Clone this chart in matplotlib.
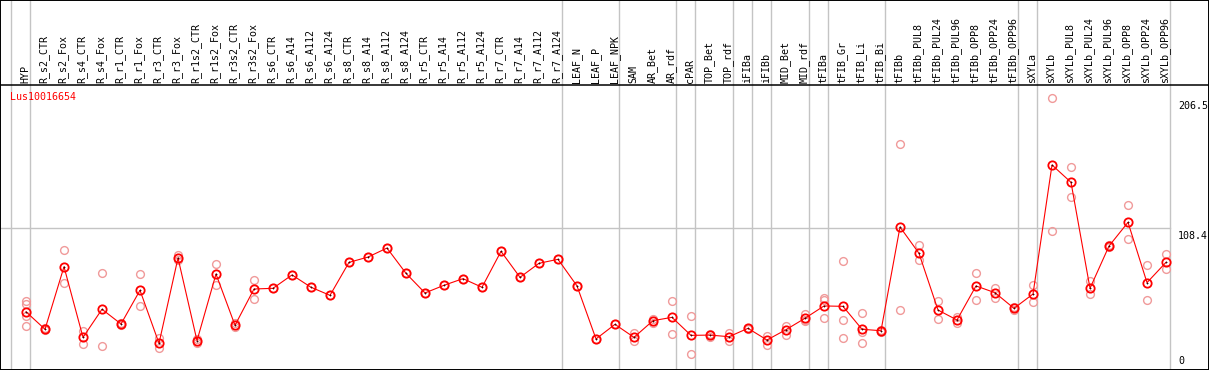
import matplotlib
matplotlib.use("Agg")
import matplotlib.pyplot as plt
from matplotlib import transforms

# sample names, in plotting order
samples = [
    "HYP", "R_s2_CTR", "R_s2_Fox", "R_s4_CTR", "R_s4_Fox", "R_r1_CTR", "R_r1_Fox",
    "R_r3_CTR", "R_r3_Fox", "R_r1s2_CTR", "R_r1s2_Fox", "R_r3s2_CTR", "R_r3s2_Fox",
    "R_s6_CTR", "R_s6_A14", "R_s6_A112", "R_s6_A124", "R_s8_CTR", "R_s8_A14",
    "R_s8_A112", "R_s8_A124", "R_r5_CTR", "R_r5_A14", "R_r5_A112", "R_r5_A124",
    "R_r7_CTR", "R_r7_A14", "R_r7_A112", "R_r7_A124", "LEAF_N", "LEAF_P", "LEAF_NPK",
    "SAM", "AR_Bet", "AR_rdf", "cPAR", "TOP_Bet", "TOP_rdf", "iFIBa", "iFIBb",
    "MID_Bet", "MID_rdf", "tFIBa", "tFIB_Gr", "tFIB_Li", "tFIB_Bi", "tFIBb",
    "tFIBb_PUL8", "tFIBb_PUL24", "tFIBb_PUL96", "tFIBb_OPP8", "tFIBb_OPP24",
    "tFIBb_OPP96", "sXYLa", "sXYLb", "sXYLb_PUL8", "sXYLb_PUL24", "sXYLb_PUL96",
    "sXYLb_OPP8", "sXYLb_OPP24", "sXYLb_OPP96",
]

# mean expression per sample
means = [
    45.4, 32.2, 79.4, 26.1, 47.3, 36.2, 61.6, 21.6, 86.0, 23.6, 73.9, 35.2, 62.6,
    63.1, 73.2, 63.9, 57.8, 82.7, 86.7, 93.5, 74.4, 59.6, 65.4, 70.4, 63.9,
    91.0, 71.4, 82.0, 85.0, 64.9, 24.9, 35.9,
    26.1, 38.7, 41.2, 27.6, 27.8, 26.6, 32.9, 24.1, 31.9, 40.5, 49.8, 49.5, 32.2,
    31.1, 109.4, 89.5, 46.7, 39.2, 64.9, 59.8, 48.0, 58.8, 156.2, 143.1, 63.1,
    95.0, 112.9, 67.4, 82.7,
]

# individual replicates per sample
reps = [
    [53.5, 51.2, 42.1, 34.9], [33.0, 31.4], [91.8, 66.9], [30.9, 21.3],
    [74.4, 19.3], [37.0, 35.4], [73.7, 49.5], [25.4, 18.3], [88.2, 84.8],
    [25.0, 22.2], [81.2, 65.8], [37.2, 33.6], [69.2, 55.3],
    [63.1], [73.2], [63.9], [57.8], [82.7], [86.7], [93.5], [74.4], [59.6],
    [65.4], [70.4], [63.9], [91.0], [71.4], [82.0], [85.0], [64.9], [24.9], [35.9],
    [29.6, 23.3], [39.9, 36.7], [53.5, 28.4], [42.0, 13.3], [29.0, 26.6],
    [29.2, 23.6], [33.5, 32.3], [27.4, 20.1], [34.7, 27.9], [43.5, 39.2, 38.8],
    [55.6, 54.3, 40.5], [83.7, 39.2, 25.4], [44.2, 30.4, 21.6], [32.0, 30.2],
    [171.8, 46.7], [95.8, 84.2], [53.5, 39.9], [41.7, 36.7], [74.4, 54.3],
    [63.6, 56.0], [49.2, 46.8], [65.6, 52.5], [206.5, 106.4], [154.4, 131.8],
    [68.6, 58.6], [96.0, 94.0], [125.8, 100.1], [80.5, 54.3], [89.0, 77.5],
]

# index of the last sample in each group (grey separators)
group_ends = [-1, 0, 28, 31, 34, 35, 37, 38, 39, 41, 42, 45, 52, 53, 60]

gene = "Lus10016654"
y_max = 206.5
y_mid = 108.4

W, H = 1209, 370
fig = plt.figure(figsize=(W / 100, H / 100), dpi=100)
fig.patch.set_facecolor("white")
ax = fig.add_axes([0, 0, 1, 1])
ax.set_facecolor("white")

# pixel layout: sample i at x = 26 + 19*i ; value v at y = 228.3 - (v-108.4)*1.325 (from top)
step, x0 = 19.0, 26.0
ax.set_xlim(-x0 / step, (W - x0) / step)
scale = 1.325
ax.set_ylim(y_mid - (H - 228.3) / scale, y_mid + 228.3 / scale)
ax.set_xticks([])
ax.set_yticks([])
for s in ax.spines.values():
    s.set_linewidth(1.4)
    s.set_color("black")

mono = "DejaVu Sans Mono"
fs = 7.2
label_frac = 1 - 85 / H
xtrans = transforms.blended_transform_factory(ax.transData, ax.transAxes)

# separator under the labels
ax.plot([0, 1], [label_frac, label_frac], transform=ax.transAxes, color="black", lw=1.1, zorder=5)

# group separators
for e in group_ends:
    ax.plot([e + 0.22, e + 0.22], [0, 1], transform=xtrans, color="#c4c4c4", lw=1.0, zorder=1)

# gridline at mid value
ax.plot([-x0 / step, group_ends[-1] + 0.22], [y_mid, y_mid], color="#c4c4c4", lw=1.0, zorder=1)

# sample labels
for i, name in enumerate(samples):
    ax.text(i - 0.05, label_frac + 2 / H, name, transform=xtrans, rotation=90,
            ha="center", va="bottom", fontsize=fs, family=mono, color="black")

# replicates
for i, r in enumerate(reps):
    ax.plot([i] * len(r), r, linestyle="none", marker="o", ms=5.6, mfc="none",
            mec="#f09a9a", mew=1.0, zorder=3)

# mean line
xs = list(range(len(means)))
ax.plot(xs, means, color="red", lw=0.8, zorder=4)
ax.plot(xs, means, linestyle="none", marker="o", ms=6.0, mfc="none", mec="red", mew=1.3, zorder=5)
ax.plot(xs, means, linestyle="none", marker="+", ms=2.0, mec="#400000", mew=0.6, zorder=6)

# gene name
ax.text(10 / W, 1 - 97 / H, gene, transform=ax.transAxes, color="red",
        fontsize=fs, family=mono, ha="left", va="center")

# value labels on the right
lx = 1178 / W
ytrans = transforms.blended_transform_factory(ax.transAxes, ax.transData)
off = transforms.offset_copy(ytrans, fig=fig, x=0, y=-3, units="dots")
ax.text(lx, y_max, f"{y_max}", transform=off, fontsize=fs, family=mono, ha="left", va="top")
ax.text(lx, y_mid, f"{y_mid}", transform=off, fontsize=fs, family=mono, ha="left", va="top")
ax.text(lx, 1 - 361 / H, "0", transform=ax.transAxes, fontsize=fs, family=mono, ha="left", va="center")

fig.savefig("out.png", dpi=100)
